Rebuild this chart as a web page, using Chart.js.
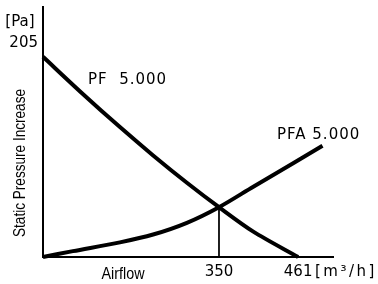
<!DOCTYPE html>
<html>
<head>
<meta charset="utf-8">
<script src="https://cdn.jsdelivr.net/npm/chart.js@4"></script>
<style>
  html, body { margin: 0; padding: 0; background: #fff; }
  #wrap { width: 378px; height: 284px; }
</style>
</head>
<body>
<div id="wrap"><canvas id="chart" width="378" height="284"></canvas></div>
<script>
// values (x in the drawn flow scale, y in Pa)
var pfX  = [0, 70, 139, 199, 260, 318, 380, 461];
var pfY  = [205, 168, 133, 104, 76, 51, 26, 0];
var pfaX = [0, 54, 139, 199, 260, 318, 380, 452, 505];
var pfaY = [0, 6, 15, 23, 35, 51, 72, 96, 114];
var dropX = [318, 318];
var dropY = [51, 0];

var xTickVals = [318, 461];
var xTickLabels = ['350', '461'];
var yTickVals = [205];
var yTickLabels = ['205'];

var xMax = 524, yMax = 256;

function pts(xs, ys) { return xs.map(function (x, i) { return { x: x, y: ys[i] } }) }

// draw text squeezed to a given width (narrow face look)
function narrowText(ctx, text, cx, cy, w, rot) {
  ctx.save();
  ctx.translate(cx, cy);
  if (rot) ctx.rotate(rot);
  var m = ctx.measureText(text).width;
  ctx.scale(w / m, 1);
  ctx.fillText(text, 0, 0);
  ctx.restore();
}

var labels = {
  id: 'labels',
  afterDraw: function (chart) {
    var ctx = chart.ctx;
    ctx.save();
    ctx.fillStyle = '#000';
    ctx.textBaseline = 'middle';

    ctx.font = '15px "DejaVu Sans"';
    ctx.textAlign = 'center';
    ctx.fillText('[Pa]', 20, 22);

    ctx.textAlign = 'left';
    ctx.letterSpacing = '1px';
    ctx.fillText('PF  5.000', 88, 80);
    ctx.fillText('PFA 5.000', 277, 135);
    ctx.letterSpacing = '2.5px';
    ctx.fillText('[m\u00b3/h]', 315, 272);
    ctx.letterSpacing = '0px';

    ctx.font = '17px "Liberation Sans", Arial';
    ctx.textAlign = 'center';
    narrowText(ctx, 'Airflow', 123, 274, 43, 0);
    narrowText(ctx, 'Static Pressure Increase', 20, 163, 148, -Math.PI / 2);
    ctx.restore();
  }
};

var chart = new Chart('chart', {
  type: 'line',
  data: {
    datasets: [{
      label: 'PF 5.000',
      data: pts(pfX, pfY),
      borderColor: '#000',
      borderWidth: 4,
      pointRadius: 0,
      tension: 0.3,
      clip: false
    }, {
      label: 'PFA 5.000',
      data: pts(pfaX, pfaY),
      borderColor: '#000',
      borderWidth: 4,
      pointRadius: 0,
      tension: 0.3,
      clip: false
    }, {
      label: 'drop',
      data: pts(dropX, dropY),
      borderColor: '#000',
      borderWidth: 1,
      pointRadius: 0
    }]
  },
  options: {
    responsive: false,
    animation: false,
    layout: { padding: { top: 7, right: 45, left: 0, bottom: 0 } },
    plugins: { legend: { display: false }, tooltip: { enabled: false } },
    scales: {
      x: {
        type: 'linear',
        min: 0,
        max: xMax,
        grid: { display: false, drawTicks: false },
        border: { color: '#000', width: 2 },
        afterBuildTicks: function (s) { s.ticks = xTickVals.map(function (v) { return { value: v } }) },
        afterFit: function (s) { s.height = 27; s.paddingLeft = 0; s.paddingRight = 0 },
        ticks: {
          padding: 6,
          color: '#000',
          font: { family: 'DejaVu Sans', size: 15 },
          callback: function (v) { return xTickLabels[xTickVals.indexOf(v)] }
        }
      },
      y: {
        min: 0,
        max: yMax,
        grid: { display: false, drawTicks: false },
        border: { color: '#000', width: 2 },
        afterBuildTicks: function (s) { s.ticks = yTickVals.map(function (v) { return { value: v } }) },
        afterFit: function (s) { s.width = 43; s.paddingTop = 0; s.paddingBottom = 0 },
        ticks: {
          padding: 5,
          labelOffset: -14,
          color: '#000',
          font: { family: 'DejaVu Sans', size: 15 },
          callback: function (v) { return yTickLabels[yTickVals.indexOf(v)] }
        }
      }
    }
  },
  plugins: [labels]
});
</script>
</body>
</html>
